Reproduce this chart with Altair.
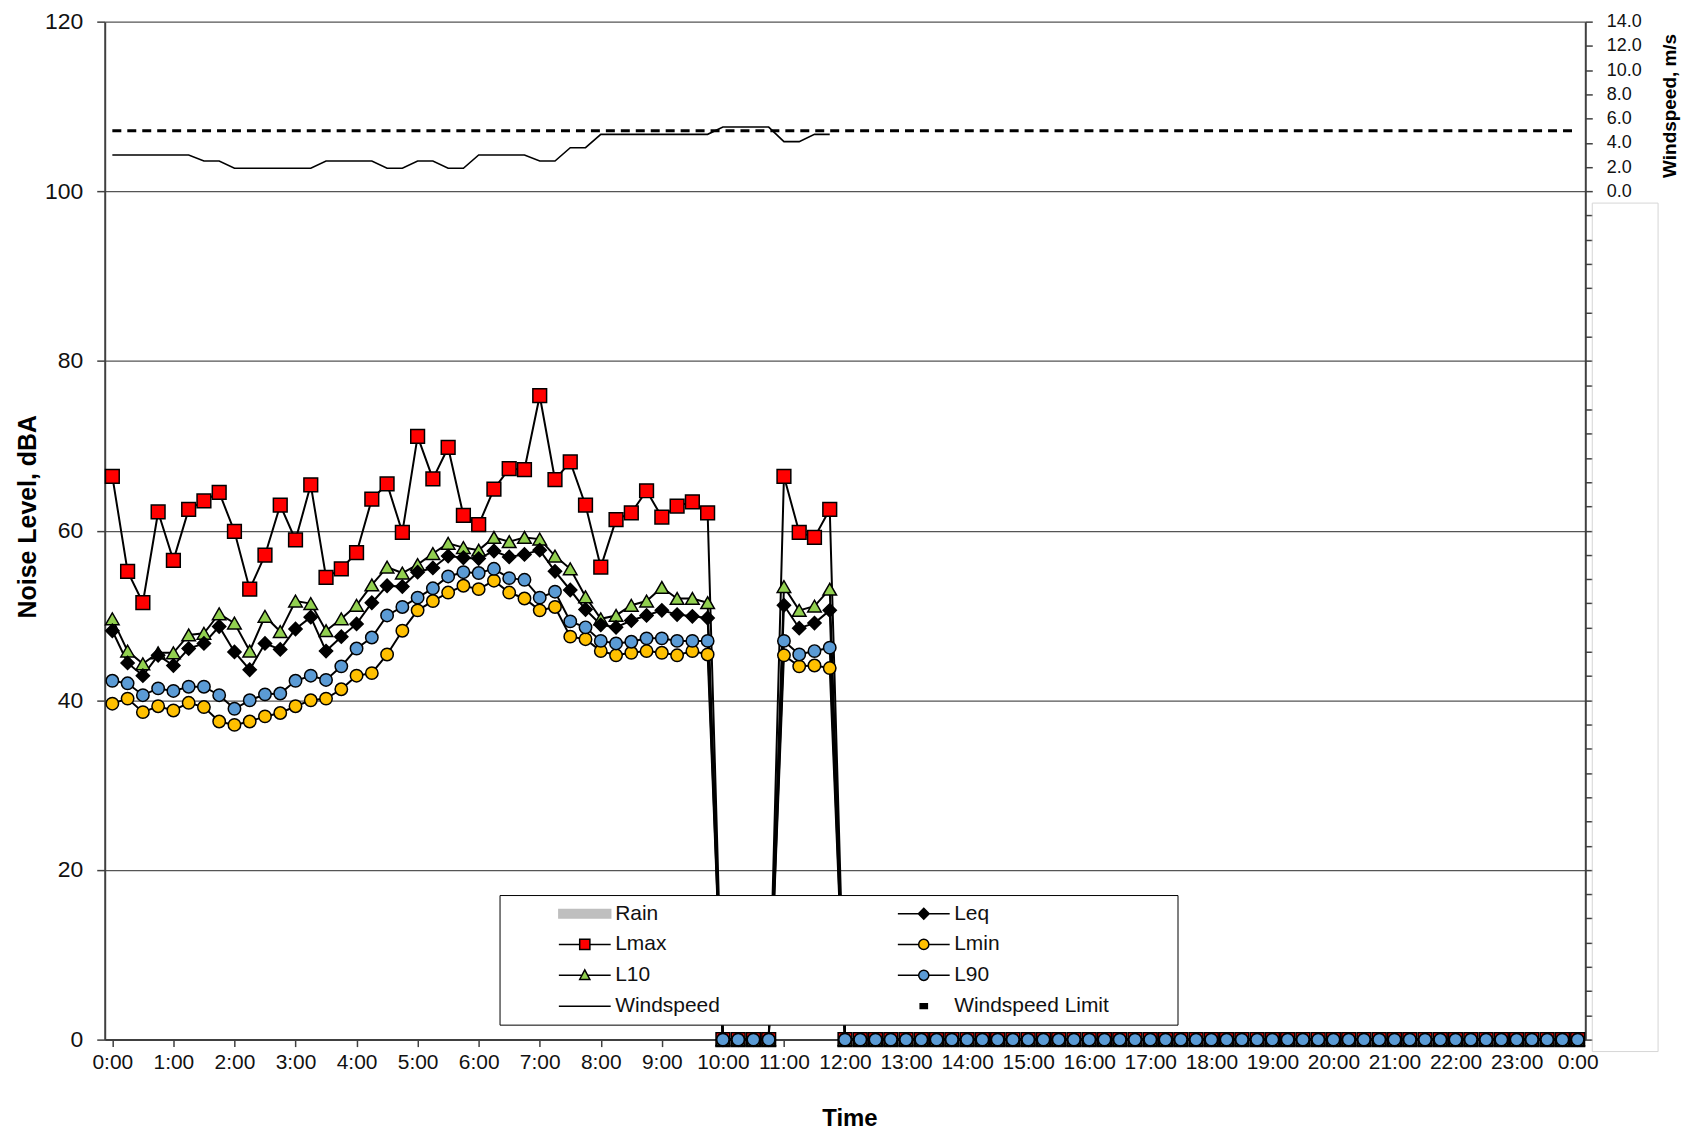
import altair as alt
import pandas as pd

FONT = "Liberation Sans"

# ---- x categories (15-minute steps) and hour tick labels ----
n_steps = 97
hour_labels = ["0:00", "1:00", "2:00", "3:00", "4:00", "5:00", "6:00", "7:00", "8:00",
               "9:00", "10:00", "11:00", "12:00", "13:00", "14:00", "15:00", "16:00",
               "17:00", "18:00", "19:00", "20:00", "21:00", "22:00", "23:00", "0:00"]

# ---- noise series, dBA (index 0 = 0:00, step 15 min) ----
lmax = [66.4, 55.2, 51.5, 62.2, 56.5, 62.5, 63.5, 64.5, 59.9, 53.1,
        57.1, 63.0, 58.9, 65.4, 54.5, 55.5, 57.4, 63.7, 65.5, 59.8,
        71.1, 66.1, 69.8, 61.8, 60.7, 64.9, 67.3, 67.2, 75.9, 66.0,
        68.1, 63.0, 55.7, 61.3, 62.1, 64.7, 61.6, 62.9, 63.4, 62.1,
        0, 0, 0, 0, 66.4, 59.8, 59.2, 62.5,
        0, 0, 0, 0, 0, 0, 0, 0, 0, 0, 0, 0, 0, 0, 0, 0, 0, 0, 0, 0, 0, 0, 0, 0, 0,
        0, 0, 0, 0, 0, 0, 0, 0, 0, 0, 0, 0, 0, 0, 0, 0, 0, 0, 0, 0, 0, 0, 0, 0]
l10 = [49.6, 45.8, 44.3, 45.6, 45.6, 47.7, 47.9, 50.2, 49.1, 45.8,
       49.9, 48.1, 51.7, 51.4, 48.2, 49.6, 51.2, 53.6, 55.7, 55.0,
       56.0, 57.3, 58.5, 58.0, 57.7, 59.2, 58.7, 59.2, 59.0, 57.0,
       55.5, 52.2, 49.6, 50.0, 51.2, 51.7, 53.3, 52.0, 52.0, 51.5,
       0, 0, 0, 0, 53.4, 50.6, 51.1, 53.1,
       0, 0, 0, 0, 0, 0, 0, 0, 0, 0, 0, 0, 0, 0, 0, 0, 0, 0, 0, 0, 0, 0, 0, 0, 0,
       0, 0, 0, 0, 0, 0, 0, 0, 0, 0, 0, 0, 0, 0, 0, 0, 0, 0, 0, 0, 0, 0, 0, 0]
leq = [48.2, 44.4, 42.9, 45.3, 44.1, 46.1, 46.7, 48.7, 45.7, 43.6,
       46.7, 46.0, 48.4, 49.8, 45.8, 47.5, 49.0, 51.5, 53.5, 53.4,
       55.1, 55.6, 57.0, 56.8, 56.7, 57.6, 56.9, 57.2, 57.7, 55.2,
       53.0, 50.7, 48.9, 48.6, 49.4, 50.0, 50.6, 50.1, 49.9, 49.7,
       0, 0, 0, 0, 51.2, 48.5, 49.1, 50.6,
       0, 0, 0, 0, 0, 0, 0, 0, 0, 0, 0, 0, 0, 0, 0, 0, 0, 0, 0, 0, 0, 0, 0, 0, 0,
       0, 0, 0, 0, 0, 0, 0, 0, 0, 0, 0, 0, 0, 0, 0, 0, 0, 0, 0, 0, 0, 0, 0, 0]
lmin = [39.6, 40.2, 38.6, 39.3, 38.8, 39.7, 39.2, 37.5, 37.1, 37.5,
        38.1, 38.5, 39.3, 40.0, 40.2, 41.3, 42.9, 43.2, 45.4, 48.2,
        50.6, 51.7, 52.7, 53.5, 53.1, 54.1, 52.7, 52.0, 50.6, 51.0,
        47.5, 47.2, 45.8, 45.3, 45.6, 45.8, 45.6, 45.3, 45.8, 45.4,
        0, 0, 0, 0, 45.3, 44.0, 44.1, 43.8,
        0, 0, 0, 0, 0, 0, 0, 0, 0, 0, 0, 0, 0, 0, 0, 0, 0, 0, 0, 0, 0, 0, 0, 0, 0,
        0, 0, 0, 0, 0, 0, 0, 0, 0, 0, 0, 0, 0, 0, 0, 0, 0, 0, 0, 0, 0, 0, 0, 0]
l90 = [42.3, 42.0, 40.6, 41.4, 41.1, 41.6, 41.6, 40.6, 39.0, 40.0,
       40.7, 40.8, 42.3, 42.9, 42.4, 44.0, 46.1, 47.4, 50.0, 51.0,
       52.1, 53.2, 54.6, 55.1, 55.0, 55.5, 54.4, 54.2, 52.1, 52.8,
       49.3, 48.6, 47.0, 46.7, 46.9, 47.3, 47.3, 47.0, 47.0, 47.0,
       0, 0, 0, 0, 47.0, 45.4, 45.8, 46.2,
       0, 0, 0, 0, 0, 0, 0, 0, 0, 0, 0, 0, 0, 0, 0, 0, 0, 0, 0, 0, 0, 0, 0, 0, 0,
       0, 0, 0, 0, 0, 0, 0, 0, 0, 0, 0, 0, 0, 0, 0, 0, 0, 0, 0, 0, 0, 0, 0, 0]

# ---- windspeed, m/s (0:00 .. 11:45) and limit ----
windspeed = [3.0, 3.0, 3.0, 3.0, 3.0, 3.0, 2.5, 2.5, 1.9, 1.9,
             1.9, 1.9, 1.9, 1.9, 2.5, 2.5, 2.5, 2.5, 1.9, 1.9,
             2.5, 2.5, 1.9, 1.9, 3.0, 3.0, 3.0, 3.0, 2.5, 2.5,
             3.6, 3.6, 4.7, 4.7, 4.7, 4.7, 4.7, 4.7, 4.7, 4.7,
             5.3, 5.3, 5.3, 5.3, 4.1, 4.1, 4.7, 4.7]
wind_limit = 5.0

# ---- legend entries (filled column by column, 2 columns) ----
legend_names = ["Rain", "Lmax", "L10", "Windspeed", "Leq", "Lmin", "L90", "Windspeed Limit"]
legend_fill = ["#bfbfbf", "#ff0000", "#92d050", "transparent", "#000000", "#ffc000", "#5b9bd5", "#000000"]
legend_stroke = ["#bfbfbf", "#000000", "#000000", "#000000", "#000000", "#000000", "#000000", "#000000"]
PATH_RAIN = "M-4.333,-0.72H4.333V0.72H-4.333Z"
PATH_SQUARE = "M-4.333,0H-0.85M0.85,0H4.333M-0.85,-0.85H0.85V0.85H-0.85Z"
PATH_TRIANGLE = "M-4.333,0H-0.48M0.48,0H4.333M0,-0.9L0.85,0.7H-0.85Z"
PATH_LINE = "M-4.333,0H4.333"
PATH_DIAMOND = "M-4.333,0H-0.9M0.9,0H4.333M0,-0.9L0.9,0L0,0.9L-0.9,0Z"
PATH_CIRCLE = "M-4.333,0H-0.85M0.85,0H4.333M0.85,0A0.85,0.85,0,1,1,-0.85,0A0.85,0.85,0,1,1,0.85,0Z"
PATH_DASH = "M-0.6,-0.4H0.6V0.4H-0.6Z"
legend_paths = [PATH_RAIN, PATH_SQUARE, PATH_TRIANGLE, PATH_LINE,
                PATH_DIAMOND, PATH_CIRCLE, PATH_CIRCLE, PATH_DASH]

series_style = [
    ("Lmax", lmax, "square", "#ff0000", 190),
    ("L10", l10, "triangle-up", "#92d050", 185),
    ("Leq", leq, "diamond", "#000000", 175),
    ("Lmin", lmin, "circle", "#ffc000", 155),
    ("L90", l90, "circle", "#5b9bd5", 155),
]

rows = []
for name, vals, _, _, _ in series_style:
    for i, v in enumerate(vals):
        rows.append({"t": i, "value": v, "series": name})
noise_df = pd.DataFrame(rows)

wind_df = pd.DataFrame({"t": list(range(len(windspeed))), "wind": windspeed})
limit_df = pd.DataFrame({"t": list(range(n_steps)), "wind": [wind_limit] * n_steps})
legend_df = pd.DataFrame({"name": legend_names})

label_expr = "[" + ",".join("'%s'" % s for s in hour_labels) + "][round(datum.value / 4)]"

PLOT_H = 1021

x_enc = alt.X(
    "t:Q",
    scale=alt.Scale(domain=[-0.5, n_steps - 0.5], nice=False, zero=False),
    axis=alt.Axis(
        values=list(range(0, n_steps, 4)), labelExpr=label_expr, grid=False,
        tickSize=7, tickColor="#404040", tickWidth=1.5,
        domainColor="#404040", domainWidth=2,
        labelFontSize=21, labelFont=FONT, labelColor="#111111", labelPadding=5,
        labelOverlap=False, labelFlush=False, labelBound=False,
        title="Time", titleFontSize=24, titleFont=FONT, titleFontWeight="bold",
        titleColor="#000000", titleX=747, titleY=79, titleBaseline="middle",
    ),
)
y_enc = alt.Y(
    "value:Q",
    scale=alt.Scale(domain=[0, 120], nice=False),
    axis=alt.Axis(
        values=[0, 20, 40, 60, 80, 100, 120], grid=True, gridColor="#555555", gridWidth=1.2,
        tickSize=8, tickColor="#404040", tickWidth=1.5,
        domainColor="#404040", domainWidth=2,
        labelFontSize=23, labelFont=FONT, labelColor="#111111", labelPadding=14,
        title="Noise Level, dBA", titleFontSize=25, titleFont=FONT, titleFontWeight="bold",
        titleColor="#000000", titleX=-77, titleY=496, titleBaseline="middle", titleAngle=270,
    ),
)

lines = alt.Chart(noise_df).mark_line(color="black", strokeWidth=2).encode(
    x=x_enc, y=y_enc, detail="series:N"
)

point_layers = []
for name, _, shape, color, size in series_style:
    point_layers.append(
        alt.Chart(noise_df).transform_filter(alt.datum.series == name).mark_point(
            shape=shape, filled=True, fill=color, stroke="black", strokeWidth=1.5,
            size=size, opacity=1
        ).encode(x=x_enc, y=y_enc)
    )

legend_props = dict(
    title=" ", titleOrient="right", titlePadding=61, titleFontSize=21,
    orient="none", legendX=396, legendY=876, columns=2,
    columnPadding=126, rowPadding=9, padding=8,
    labelFontSize=21, labelFont=FONT, labelColor="#111111",
    symbolSize=144, symbolStrokeWidth=1.5, symbolOffset=67, labelOffset=20,
    strokeColor="black", fillColor="white",
)

legend_layer = alt.Chart(legend_df).transform_filter("datum.name == 'none'").mark_point(
    filled=True, opacity=1
).encode(
    shape=alt.Shape("name:N", scale=alt.Scale(domain=legend_names, range=legend_paths),
                    legend=alt.Legend(**legend_props)),
    fill=alt.Fill("name:N", scale=alt.Scale(domain=legend_names, range=legend_fill),
                  legend=alt.Legend(**legend_props)),
    stroke=alt.Stroke("name:N", scale=alt.Scale(domain=legend_names, range=legend_stroke),
                      legend=alt.Legend(**legend_props)),
)

noise = alt.layer(lines, *point_layers, legend_layer)

wind_y = alt.Y(
    "wind:Q",
    scale=alt.Scale(domain=[-70, 14], nice=False, zero=False),
    axis=alt.Axis(
        orient="right", values=list(range(-70, 15, 2)),
        labelExpr="datum.value >= 0 ? format(datum.value, '.1f') : ''",
        grid=False, tickSize=7, tickColor="#404040", tickWidth=1.5,
        domainColor="#404040", domainWidth=2,
        labelFontSize=18, labelFont=FONT, labelColor="#111111", labelPadding=14,
        title="Windspeed, m/s", titleFontSize=19, titleFont=FONT, titleFontWeight="bold",
        titleColor="#000000", titleX=84, titleY=84, titleAngle=270, titleBaseline="middle",
    ),
)

wind_line = alt.Chart(wind_df).mark_line(color="black", strokeWidth=1.6).encode(x=x_enc, y=wind_y)
limit_line = alt.Chart(limit_df).mark_line(color="black", strokeWidth=3, strokeDash=[9, 6]).encode(
    x=x_enc, y=wind_y
)
wind = alt.layer(wind_line, limit_line)

frame = alt.Chart(pd.DataFrame({"a": [0]})).mark_rect(
    fillOpacity=0, stroke="#d6d6d6", strokeWidth=1
).encode(x=alt.value(1492), x2=alt.value(1558), y=alt.value(182), y2=alt.value(1033))

chart = alt.layer(noise, wind, frame).resolve_scale(y="independent").properties(
    width=1485, height=PLOT_H,
    autosize=alt.AutoSizeParams(type="none"),
    padding={"left": 97, "top": 12, "right": 100, "bottom": 95},
    background="white",
).configure_view(stroke=None)

chart.save("out.html", embed_options={"renderer": "svg", "actions": False})
